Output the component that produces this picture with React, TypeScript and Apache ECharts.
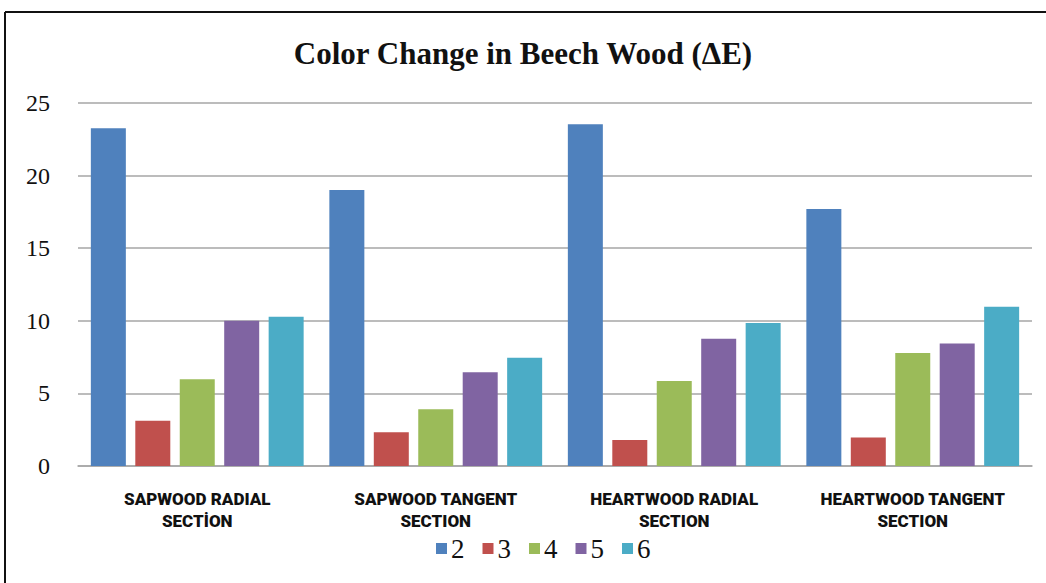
import React, { useEffect, useRef } from "react";
import * as echarts from "echarts";

const categories = [
  "SAPWOOD RADIAL\nSECTİON",
  "SAPWOOD TANGENT\nSECTION",
  "HEARTWOOD RADIAL\nSECTION",
  "HEARTWOOD TANGENT\nSECTION",
];
const seriesNames = ["2", "3", "4", "5", "6"];
const s2 = [23.26, 19.0, 23.53, 17.7];
const s3 = [3.12, 2.32, 1.79, 1.97];
const s4 = [5.97, 3.9, 5.85, 7.78];
const s5 = [10.0, 6.45, 8.77, 8.43];
const s6 = [10.28, 7.46, 9.85, 10.97];
const seriesValues = [s2, s3, s4, s5, s6];
const colors = ["#4F81BD", "#C0504D", "#9BBB59", "#8064A2", "#4BACC6"];
const titleText = "Color Change in Beech Wood (ΔE)";

export default function App() {
  const ref = useRef<HTMLDivElement>(null);
  useEffect(() => {
    document.body.style.margin = "0";
    if (!ref.current) return;
    const chart = echarts.init(ref.current, null, { renderer: "svg" });
    chart.setOption({
      animation: false,
      backgroundColor: "#ffffff",
      title: {
        text: titleText,
        left: "center",
        top: 33,
        textStyle: {
          fontFamily: "Liberation Serif, Times New Roman, serif",
          fontWeight: "bold",
          fontSize: 31,
          color: "#111",
        },
      },
      legend: {
        data: seriesNames,
        bottom: 16,
        left: 431,
        itemWidth: 11,
        itemHeight: 11,
        itemGap: 18,
        icon: "rect",
        textStyle: {
          fontFamily: "Liberation Serif, Times New Roman, serif",
          fontSize: 27,
          color: "#111",
          padding: [0, 0, 0, -1],
        },
      },
      grid: { left: 78, right: 14, top: 103, bottom: 117, containLabel: false },
      xAxis: {
        type: "category",
        data: categories,
        axisLine: { show: true, lineStyle: { color: "#a6a6a6", width: 1.5 } },
        axisTick: { show: false },
        axisLabel: {
          margin: 22,
          interval: 0,
          fontFamily: "Roboto, DejaVu Sans Condensed, sans-serif",
          fontWeight: 900,
          fontSize: 17,
          lineHeight: 22,
          color: "#111",
        },
      },
      yAxis: {
        type: "value",
        min: 0,
        max: 25,
        interval: 5,
        axisLine: { show: false },
        axisTick: { show: false },
        splitLine: { lineStyle: { color: "#a6a6a6", width: 1.5 } },
        axisLabel: {
          margin: 28,
          fontFamily: "Liberation Serif, Times New Roman, serif",
          fontSize: 24,
          color: "#111",
        },
      },
      series: seriesNames.map((name, i) => ({
        name,
        type: "bar",
        data: seriesValues[i],
        barWidth: 35,
        barGap: "27%",
        itemStyle: { color: colors[i] },
      })),
      graphic: [
        {
          type: "line",
          shape: { x1: 5, y1: 12, x2: 1046, y2: 12 },
          style: { stroke: "#111", lineWidth: 2 },
        },
        {
          type: "line",
          shape: { x1: 5, y1: 12, x2: 5, y2: 583 },
          style: { stroke: "#111", lineWidth: 2 },
        },
      ],
    });
    return () => chart.dispose();
  }, []);
  return <div ref={ref} style={{ width: 1046, height: 583 }} />;
}
